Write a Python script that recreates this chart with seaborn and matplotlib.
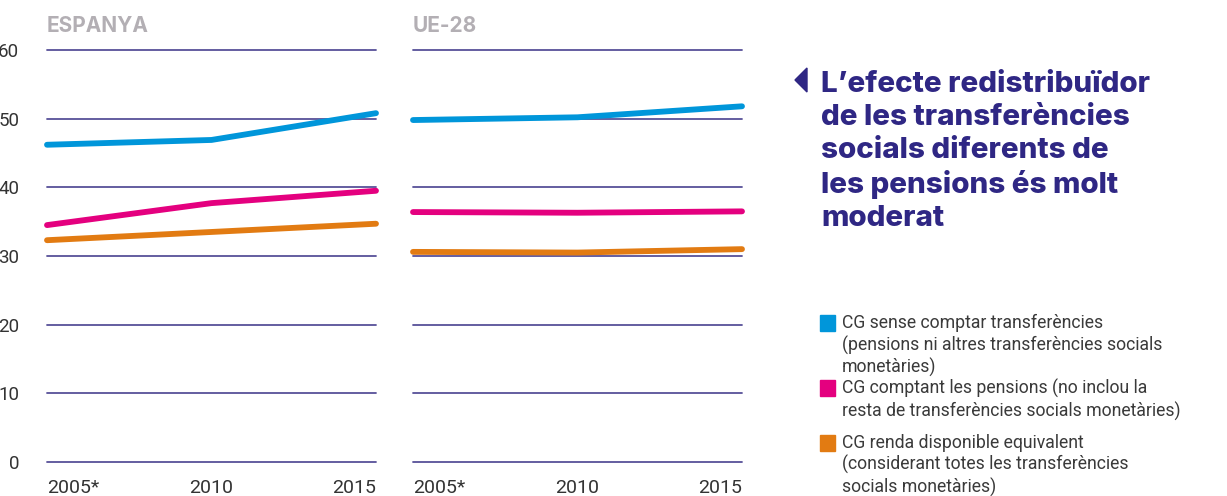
import numpy as np
import pandas as pd
import matplotlib
matplotlib.use("Agg")
import matplotlib.pyplot as plt
from matplotlib.patches import Rectangle, Polygon
import seaborn as sns

years = [2005, 2010, 2015]
year_labels = ["2005*", "2010", "2015"]
panels = ["ESPANYA", "UE-28"]
series = [
    "CG sense comptar transferències\n(pensions ni altres transferències socials\nmonetàries)",
    "CG comptant les pensions (no inclou la\nresta de transferències socials monetàries)",
    "CG renda disponible equivalent\n(considerant totes les transferències\nsocials monetàries)",
]
espanya_sense = [46.2, 46.9, 50.8]
espanya_pensions = [34.5, 37.7, 39.5]
espanya_renda = [32.3, 33.5, 34.7]
ue_sense = [49.8, 50.2, 51.8]
ue_pensions = [36.4, 36.3, 36.5]
ue_renda = [30.6, 30.5, 31.0]
yticks = [0, 10, 20, 30, 40, 50, 60]
colors = ["#0096da", "#e4007f", "#e27b12"]
title = "L’efecte redistribuïdor\nde les transferències\nsocials diferents de\nles pensions és molt\nmoderat"

sns.set_theme(style="white")
plt.rcParams['font.family'] = ['Roboto', 'DejaVu Sans']

rows = []
for panel, vals in zip(panels, [[espanya_sense, espanya_pensions, espanya_renda],
                                 [ue_sense, ue_pensions, ue_renda]]):
    for s, v in zip(series, vals):
        for y, val in zip(years, v):
            rows.append({"panel": panel, "serie": s, "year": y, "value": val})
df = pd.DataFrame(rows)

W, H = 1227, 496
fig = plt.figure(figsize=(W / 100, H / 100), dpi=100)
grid_color = "#3a3287"
text_dark = "#333333"
lefts = [47, 413]
width_px = 329
top_px, bot_px = 50, 462

for i, panel in enumerate(panels):
    ax = fig.add_axes([lefts[i] / W, 1 - bot_px / H, width_px / W, (bot_px - top_px) / H])
    sub = df[df.panel == panel]
    for yv in yticks:
        ax.axhline(yv, color=grid_color, lw=1.3, zorder=1, alpha=0.85)
    sns.lineplot(data=sub, x="year", y="value", hue="serie", palette=colors,
                 hue_order=series, ax=ax, lw=4.2, legend=False, zorder=3,
                 solid_capstyle="round")
    for ln in ax.lines:
        ln.set_clip_on(False)
    ax.set_xlim(2005, 2015)
    ax.set_ylim(0, 60)
    for sp in ax.spines.values():
        sp.set_visible(False)
    ax.set_xlabel("")
    ax.set_ylabel("")
    ax.set_xticks(years)
    ax.set_xticklabels(year_labels, fontsize=14, color=text_dark)
    tl = ax.get_xticklabels()
    tl[0].set_ha("left")
    tl[2].set_ha("right")
    ax.tick_params(axis="x", length=0, pad=12)
    if i == 0:
        ax.set_yticks(yticks)
        ax.set_yticklabels([str(t) for t in yticks], fontsize=13.5, color=text_dark)
        ax.tick_params(axis="y", length=0, pad=20)
    else:
        ax.set_yticks([])
    ax.text(0.0, 1.044, panel, transform=ax.transAxes, fontsize=15, fontweight="bold",
            family=["Inter", "DejaVu Sans"], color="#b3afb4", ha="left", va="baseline")

# Title block
title_color = "#2f2784"
fig.text(821 / W, 1 - 71 / H, title, fontsize=21.3, fontweight="heavy",
         family=["Inter", "DejaVu Sans"], color=title_color,
         ha="left", va="top", linespacing=1.28)
tri = Polygon([[807 / W, 1 - 68 / H], [807 / W, 1 - 92 / H], [795 / W, 1 - 80 / H]],
              closed=True, transform=fig.transFigure, color=title_color)
fig.patches.append(tri)

# Legend
legend_y = [315, 380, 435]
for c, s, ly in zip(colors, series, legend_y):
    fig.patches.append(Rectangle((820 / W, 1 - (ly + 16) / H), 15 / W, 16 / H,
                                 transform=fig.transFigure, color=c))
    fig.text(842 / W, 1 - (ly - 1) / H, s, fontsize=12.7, color="#3a3a3a",
             ha="left", va="top", linespacing=1.22)

fig.savefig("out.png", dpi=100)
